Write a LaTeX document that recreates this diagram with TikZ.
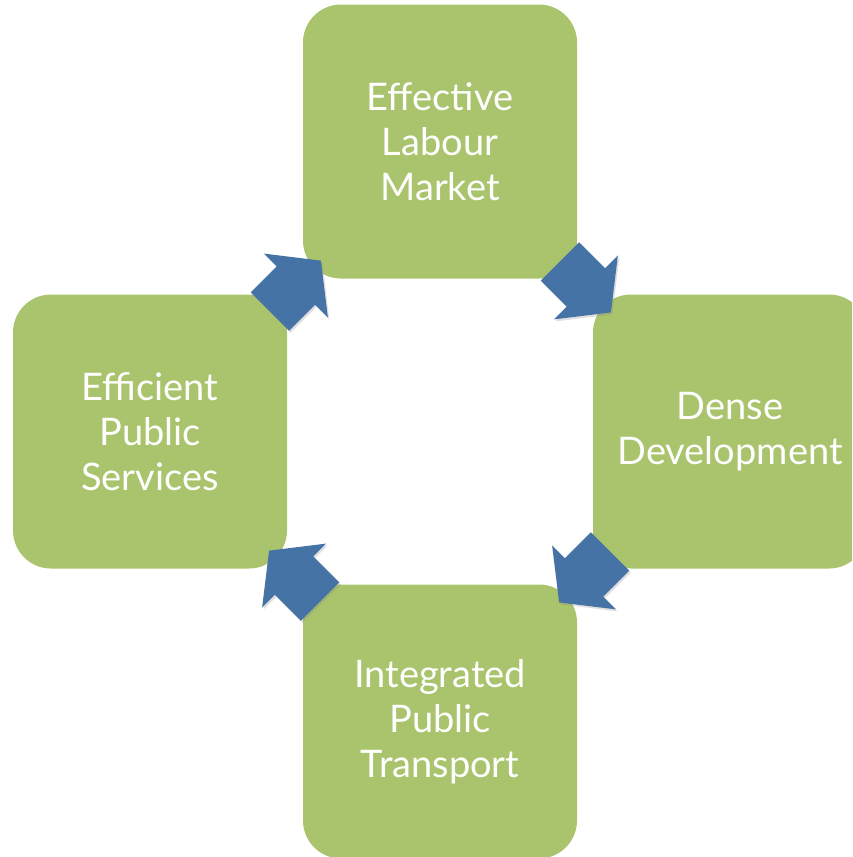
\documentclass[tikz,border=0pt]{standalone}
\usepackage{fontspec}
\setmainfont{Lato}
\usetikzlibrary{shapes.arrows, shadows, calc}

\definecolor{boxgreen}{RGB}{169,196,108}
\definecolor{arrowblue}{RGB}{70,115,166}

\begin{document}
\begin{tikzpicture}[x=1pt, y=1pt,
    % Define styles for consistent formatting
    stagebox/.style={fill=boxgreen, rounded corners=38pt, minimum size=274pt,
        inner sep=0pt, text=white, align=center,
        font=\fontsize{38}{45}\selectfont},
    flowarrow/.style={single arrow, fill=arrowblue, inner xsep=0pt, inner ysep=27pt,
        minimum height=72pt, single arrow head extend=18pt,
        single arrow tip angle=104, rotate=#1, xshift=-10pt,
        drop shadow={shadow xshift=1.5pt, shadow yshift=-2pt, opacity=0.25}}
]

% Define coordinates for better maintainability
\newcommand{\midx}{440}
\newcommand{\midy}{-431.5}
\newcommand{\stageoff}{290}

% Page frame (also cuts the right box)
\clip (0,0) rectangle (852,-857);

% Stage boxes
\node [stagebox] (labour) at (\midx,\midy+\stageoff) {Effective\\Labour\\Market};
\node [stagebox] (development) at (\midx+\stageoff,\midy) {Dense\\Development};
\node [stagebox] (transport) at (\midx,\midy-\stageoff) {Integrated\\Public\\Transport};
\node [stagebox] (services) at (\midx-\stageoff,\midy) {Efficient\\Public\\Services};

% Cycle arrows
\node [flowarrow=-45] (arrowone) at ($(labour)!0.5!(development)$) {};
\node [flowarrow=-135] (arrowtwo) at ($(development)!0.5!(transport)$) {};
\node [flowarrow=135] (arrowthree) at ($(transport)!0.5!(services)$) {};
\node [flowarrow=45] (arrowfour) at ($(services)!0.5!(labour)$) {};

\end{tikzpicture}
\end{document}
